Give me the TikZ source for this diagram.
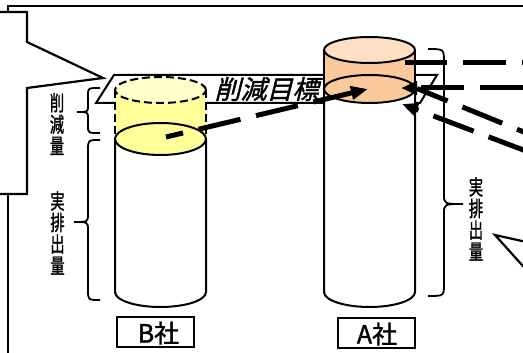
\documentclass[tikz,border=0pt]{standalone}
\usepackage{fontspec}
\newfontfamily\jp[FakeBold=1.5]{Noto Sans CJK JP}
\usetikzlibrary{arrows.meta}
\definecolor{ylight}{HTML}{FFFFCC}
\definecolor{ybody}{HTML}{FFFF99}
\definecolor{otop}{HTML}{FDDFC4}
\definecolor{obody}{HTML}{FBC99B}
\begin{document}
\begin{tikzpicture}[x=1pt,y=-1pt,
  frame/.style={line width=2.2pt, line join=miter},
  cyl/.style={line width=2pt},
  bigdash/.style={line width=5pt, dash pattern=on 43pt off 16pt},
  tip/.style={-{Triangle[length=16pt,width=13pt]}},
  bracestyle/.style={line width=1.8pt},
  vlab/.style={font=\jp\fontsize{21}{21.5}\selectfont, align=center, inner sep=0pt, xscale=0.68},
  lbox/.style={draw, line width=2.2pt, minimum width=77pt, minimum height=30pt, inner sep=0pt},
  labtext/.style={font=\jp\fontsize{25}{25}\selectfont, inner sep=0pt}
]
\useasboundingbox (0,0) rectangle (523,353);
\clip (0,0) rectangle (523,353);
% frame
\draw[frame] (8,370) -- (8,6) -- (540,6);
% left callout
\draw[frame, fill=white] (-10,12) -- (27,12) -- (27,42) -- (103,78) -- (27,88) -- (27,194) -- (-10,194);
% right callout
\draw[frame, fill=white] (540,245) -- (495,235) -- (540,285);
% target plane
\draw[line width=2pt] (114,75) -- (437,75) -- (420,103) -- (96,103) -- cycle;
% B cylinder
\fill[ybody] (115,90) rectangle (206,139);
\draw[cyl, fill=ylight, dash pattern=on 8pt off 4pt] (160.5,90) ellipse [x radius=45.5pt, y radius=13pt];
\draw[cyl, dash pattern=on 8pt off 4pt] (115,90) -- (115,139) (206,90) -- (206,139);
\draw[cyl, fill=white] (115,139) -- (115,292) arc[start angle=180,end angle=360,x radius=45.5pt,y radius=15pt] -- (206,139);
\draw[cyl, fill=ybody] (160.5,139) ellipse [x radius=45.5pt, y radius=16pt];
% A cylinder
\fill[obody] (324,50) rectangle (415,89);
\draw[cyl, fill=white] (324,89) -- (324,292) arc[start angle=180,end angle=360,x radius=45.5pt,y radius=15pt] -- (415,89);
\draw[cyl, fill=obody] (369.5,89) ellipse [x radius=45.5pt, y radius=14pt];
\draw[cyl] (324,50) -- (324,89) (415,50) -- (415,89);
\draw[cyl, fill=otop] (369.5,50) ellipse [x radius=45.5pt, y radius=13pt];
% target text
\node[font=\jp\fontsize{26}{26}\selectfont, xslant=0.25, inner sep=0pt] (goal) at (269,89) {削減目標};
% vertical labels
\node[vlab] (cut) at (57,124) {削\\減\\量};
\node[vlab] (actL) at (57.5,233) {実\\排\\出\\量};
\node[vlab] (actR) at (476,219) {実\\排\\出\\量};
% braces
\draw[bracestyle] (100,88) .. controls (88,88) .. (88,95) -- (88,106) .. controls (88,112) .. (77,112) .. controls (88,112) .. (88,118) -- (88,126) .. controls (88,133) .. (100,133);
\draw[bracestyle] (100,140) .. controls (88,140) .. (88,150) -- (88,214) .. controls (88,222) .. (74,222) .. controls (88,222) .. (88,230) -- (88,290) .. controls (88,300) .. (100,300);
\draw[bracestyle] (428,49) .. controls (444,49) .. (444,62) -- (444,194) .. controls (444,204) .. (463,204) .. controls (444,204) .. (444,214) -- (444,284) .. controls (444,296) .. (428,296);
% label boxes
\node[lbox] (Bbox) at (155.5,332) {};
\node[labtext] (Btxt) at (158.5,333) {B社};
\node[lbox] (Abox) at (376.5,333) {};
\node[labtext] (Atxt) at (377,334) {A社};
% arrows
\coordinate (Bs) at (166,137);
\coordinate (At) at (368,89);
\draw[bigdash, dash phase=25.5pt, -{Triangle[length=17pt,width=13pt]}] (Bs) -- (At);
\coordinate (H1s) at (530,63);
\coordinate (H1e) at (405,63);
\draw[bigdash, dash phase=35pt] (H1s) -- (H1e);
\coordinate (H2s) at (523,88);
\coordinate (H2e) at (401,88);
\draw[bigdash, tip] (H2s) -- (H2e);
\coordinate (D1s) at (530,134.5);
\coordinate (D1e) at (417,88.5);
\draw[bigdash, dash phase=29pt] (D1s) -- (D1e);
\coordinate (D2s) at (526,151);
\coordinate (D2e) at (402,104);
\draw[bigdash, dash phase=3pt, tip] (D2s) -- (D2e);
\end{tikzpicture}
\end{document}
